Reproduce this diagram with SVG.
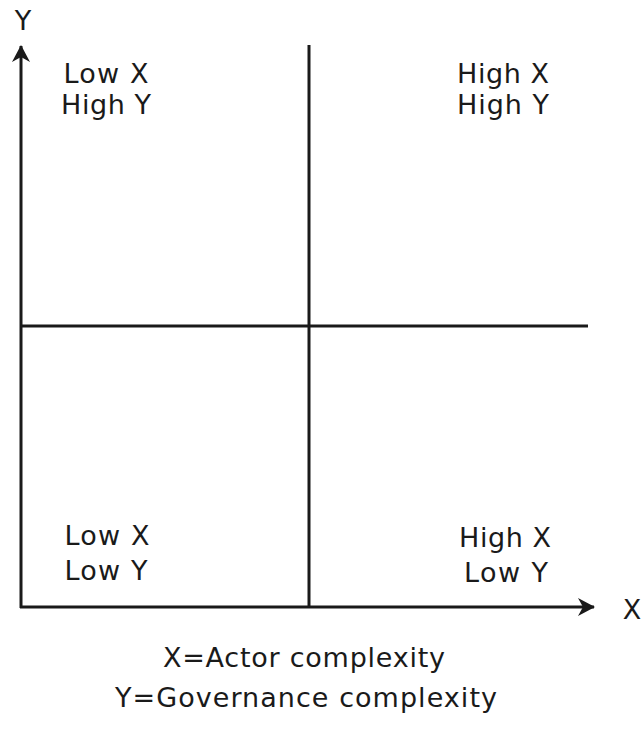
<svg xmlns="http://www.w3.org/2000/svg" width="643" height="729" viewBox="0 0 643 729">
<style>
.ax{stroke:#1a1a1a;stroke-width:3;fill:none}
.t{font-family:"DejaVu Sans","Liberation Sans",sans-serif;font-size:27px;fill:#1a1a1a;text-anchor:middle}
</style>
<defs>
<marker id="ah" markerWidth="20" markerHeight="20" refX="16" refY="10" orient="auto" markerUnits="userSpaceOnUse" viewBox="0 0 20 20">
<path d="M0,1 L17,10 L0,19 L5,10 Z" fill="#1a1a1a"/>
</marker>
</defs>
<rect width="643" height="729" fill="#fff"/>
<g id="connectors">
<line class="ax" x1="21" y1="608" x2="21" y2="46" marker-end="url(#ah)"/>
<line class="ax" x1="20" y1="607" x2="594" y2="607" marker-end="url(#ah)"/>
<line class="ax" x1="309" y1="45" x2="309" y2="607"/>
<line class="ax" x1="20" y1="326" x2="588" y2="326"/>
</g>
<g id="axis-y"><text class="t" x="23" y="30">Y</text></g>
<g id="axis-x"><text class="t" x="632" y="619">X</text></g>
<g id="q-tl"><text class="t" x="106" y="83" textLength="85">Low X</text><text class="t" x="106" y="114" textLength="90">High Y</text></g>
<g id="q-tr"><text class="t" x="503" y="83" textLength="92">High X</text><text class="t" x="503" y="114" textLength="92">High Y</text></g>
<g id="q-bl"><text class="t" x="107" y="545" textLength="85">Low X</text><text class="t" x="106" y="580" textLength="83">Low Y</text></g>
<g id="q-br"><text class="t" x="505" y="547" textLength="92">High X</text><text class="t" x="506" y="582" textLength="84">Low Y</text></g>
<g id="legend">
<text class="t" x="304" y="667" textLength="282">X=Actor complexity</text>
<text class="t" x="306" y="707" textLength="382">Y=Governance complexity</text>
</g>
</svg>
